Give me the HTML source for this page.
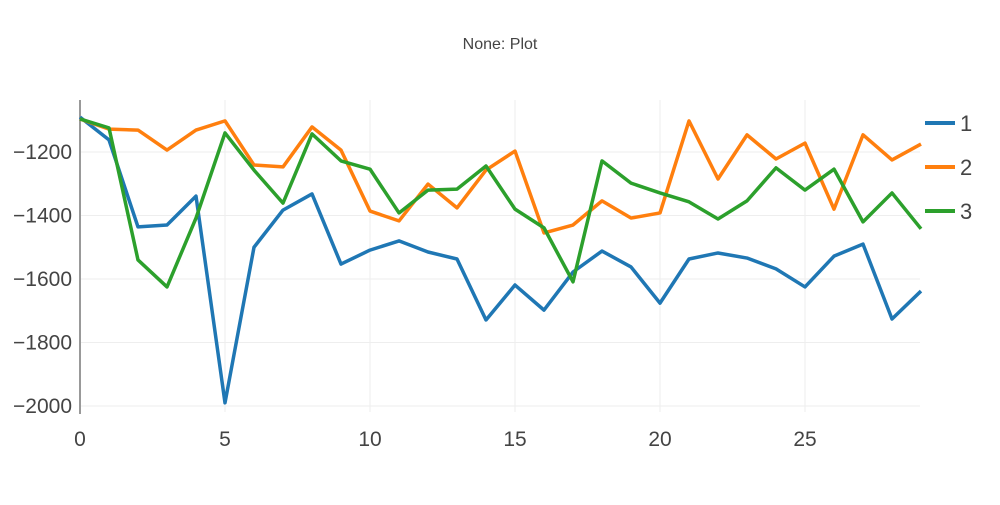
<!DOCTYPE html>
<html><head><meta charset="utf-8"><style>
body{margin:0;background:#fff;font-family:"Liberation Sans",sans-serif}
</style></head><body>
<svg id="c" width="1000" height="500" xmlns="http://www.w3.org/2000/svg" font-family="Liberation Sans, sans-serif">
<text x="500" y="49" text-anchor="middle" font-size="16" fill="#444">None: Plot</text>
<g id="grid"></g><g id="axes"></g><g id="series"></g><g id="legend"></g>
</svg>
<script>
const xs=[...Array(30).keys()];
const s1=[-1090,-1162,-1436,-1430,-1339,-1990,-1500,-1383,-1332,-1553,-1509,-1480,-1515,-1537,-1729,-1619,-1698,-1578,-1512,-1562,-1676,-1537,-1518,-1534,-1568,-1625,-1528,-1490,-1726,-1638];
const s2=[-1096,-1128,-1131,-1194,-1131,-1102,-1241,-1247,-1121,-1194,-1386,-1417,-1301,-1376,-1257,-1197,-1455,-1430,-1354,-1408,-1392,-1102,-1285,-1146,-1222,-1172,-1380,-1146,-1225,-1175];
const s3=[-1096,-1124,-1540,-1625,-1408,-1140,-1257,-1361,-1143,-1228,-1254,-1392,-1320,-1317,-1244,-1380,-1439,-1609,-1228,-1298,-1329,-1357,-1411,-1354,-1250,-1320,-1254,-1420,-1329,-1442];
const names=["1","2","3"];
const colors=["#1f77b4","#ff7f0e","#2ca02c"];
const yTicks=[-1200,-1400,-1600,-1800,-2000];
const yTickLabels=["−1200","−1400","−1600","−1800","−2000"];
const xTicks=[0,5,10,15,20,25];
const X=v=>80+v*29;
const Y=v=>152-(v+1200)*0.3175;
const NS="http://www.w3.org/2000/svg";
function mk(t,a,p){const e=document.createElementNS(NS,t);for(const k in a)e.setAttribute(k,a[k]);p.appendChild(e);return e;}
const grid=document.getElementById('grid'),axes=document.getElementById('axes'),ser=document.getElementById('series'),leg=document.getElementById('legend');
yTicks.forEach((t,i)=>{const l=mk('line',{x1:80,x2:920,y1:Y(t),y2:Y(t),stroke:'#eee'},grid);


const tx=mk('text',{x:72,y:Y(t)+7,'text-anchor':'end','font-size':21,fill:'#444'},axes);tx.textContent=yTickLabels[i];

});
xTicks.forEach(t=>{if(t>0){const l=mk('line',{x1:X(t),x2:X(t),y1:100,y2:412,stroke:'#eee'},grid);

}
const tx=mk('text',{x:X(t),y:446,'text-anchor':'middle','font-size':21,fill:'#444'},axes);tx.textContent=t;

});
const ya=mk('line',{x1:80,x2:80,y1:100,y2:414,stroke:'#999','stroke-width':2},axes);


[s1,s2,s3].forEach((s,i)=>{const p=mk('polyline',{points:s.map((v,j)=>X(xs[j])+','+Y(v)).join(' '),fill:'none',stroke:colors[i],'stroke-width':3.5,'stroke-linejoin':'round'},ser);


const y=123+i*44;
const g=mk('g',{},leg);


mk('line',{x1:925,x2:955,y1:y,y2:y,stroke:colors[i],'stroke-width':4},g);
const t=mk('text',{x:960,y:y+8,'font-size':22,fill:'#444'},g);t.textContent=names[i];});
</script>
</body></html>
